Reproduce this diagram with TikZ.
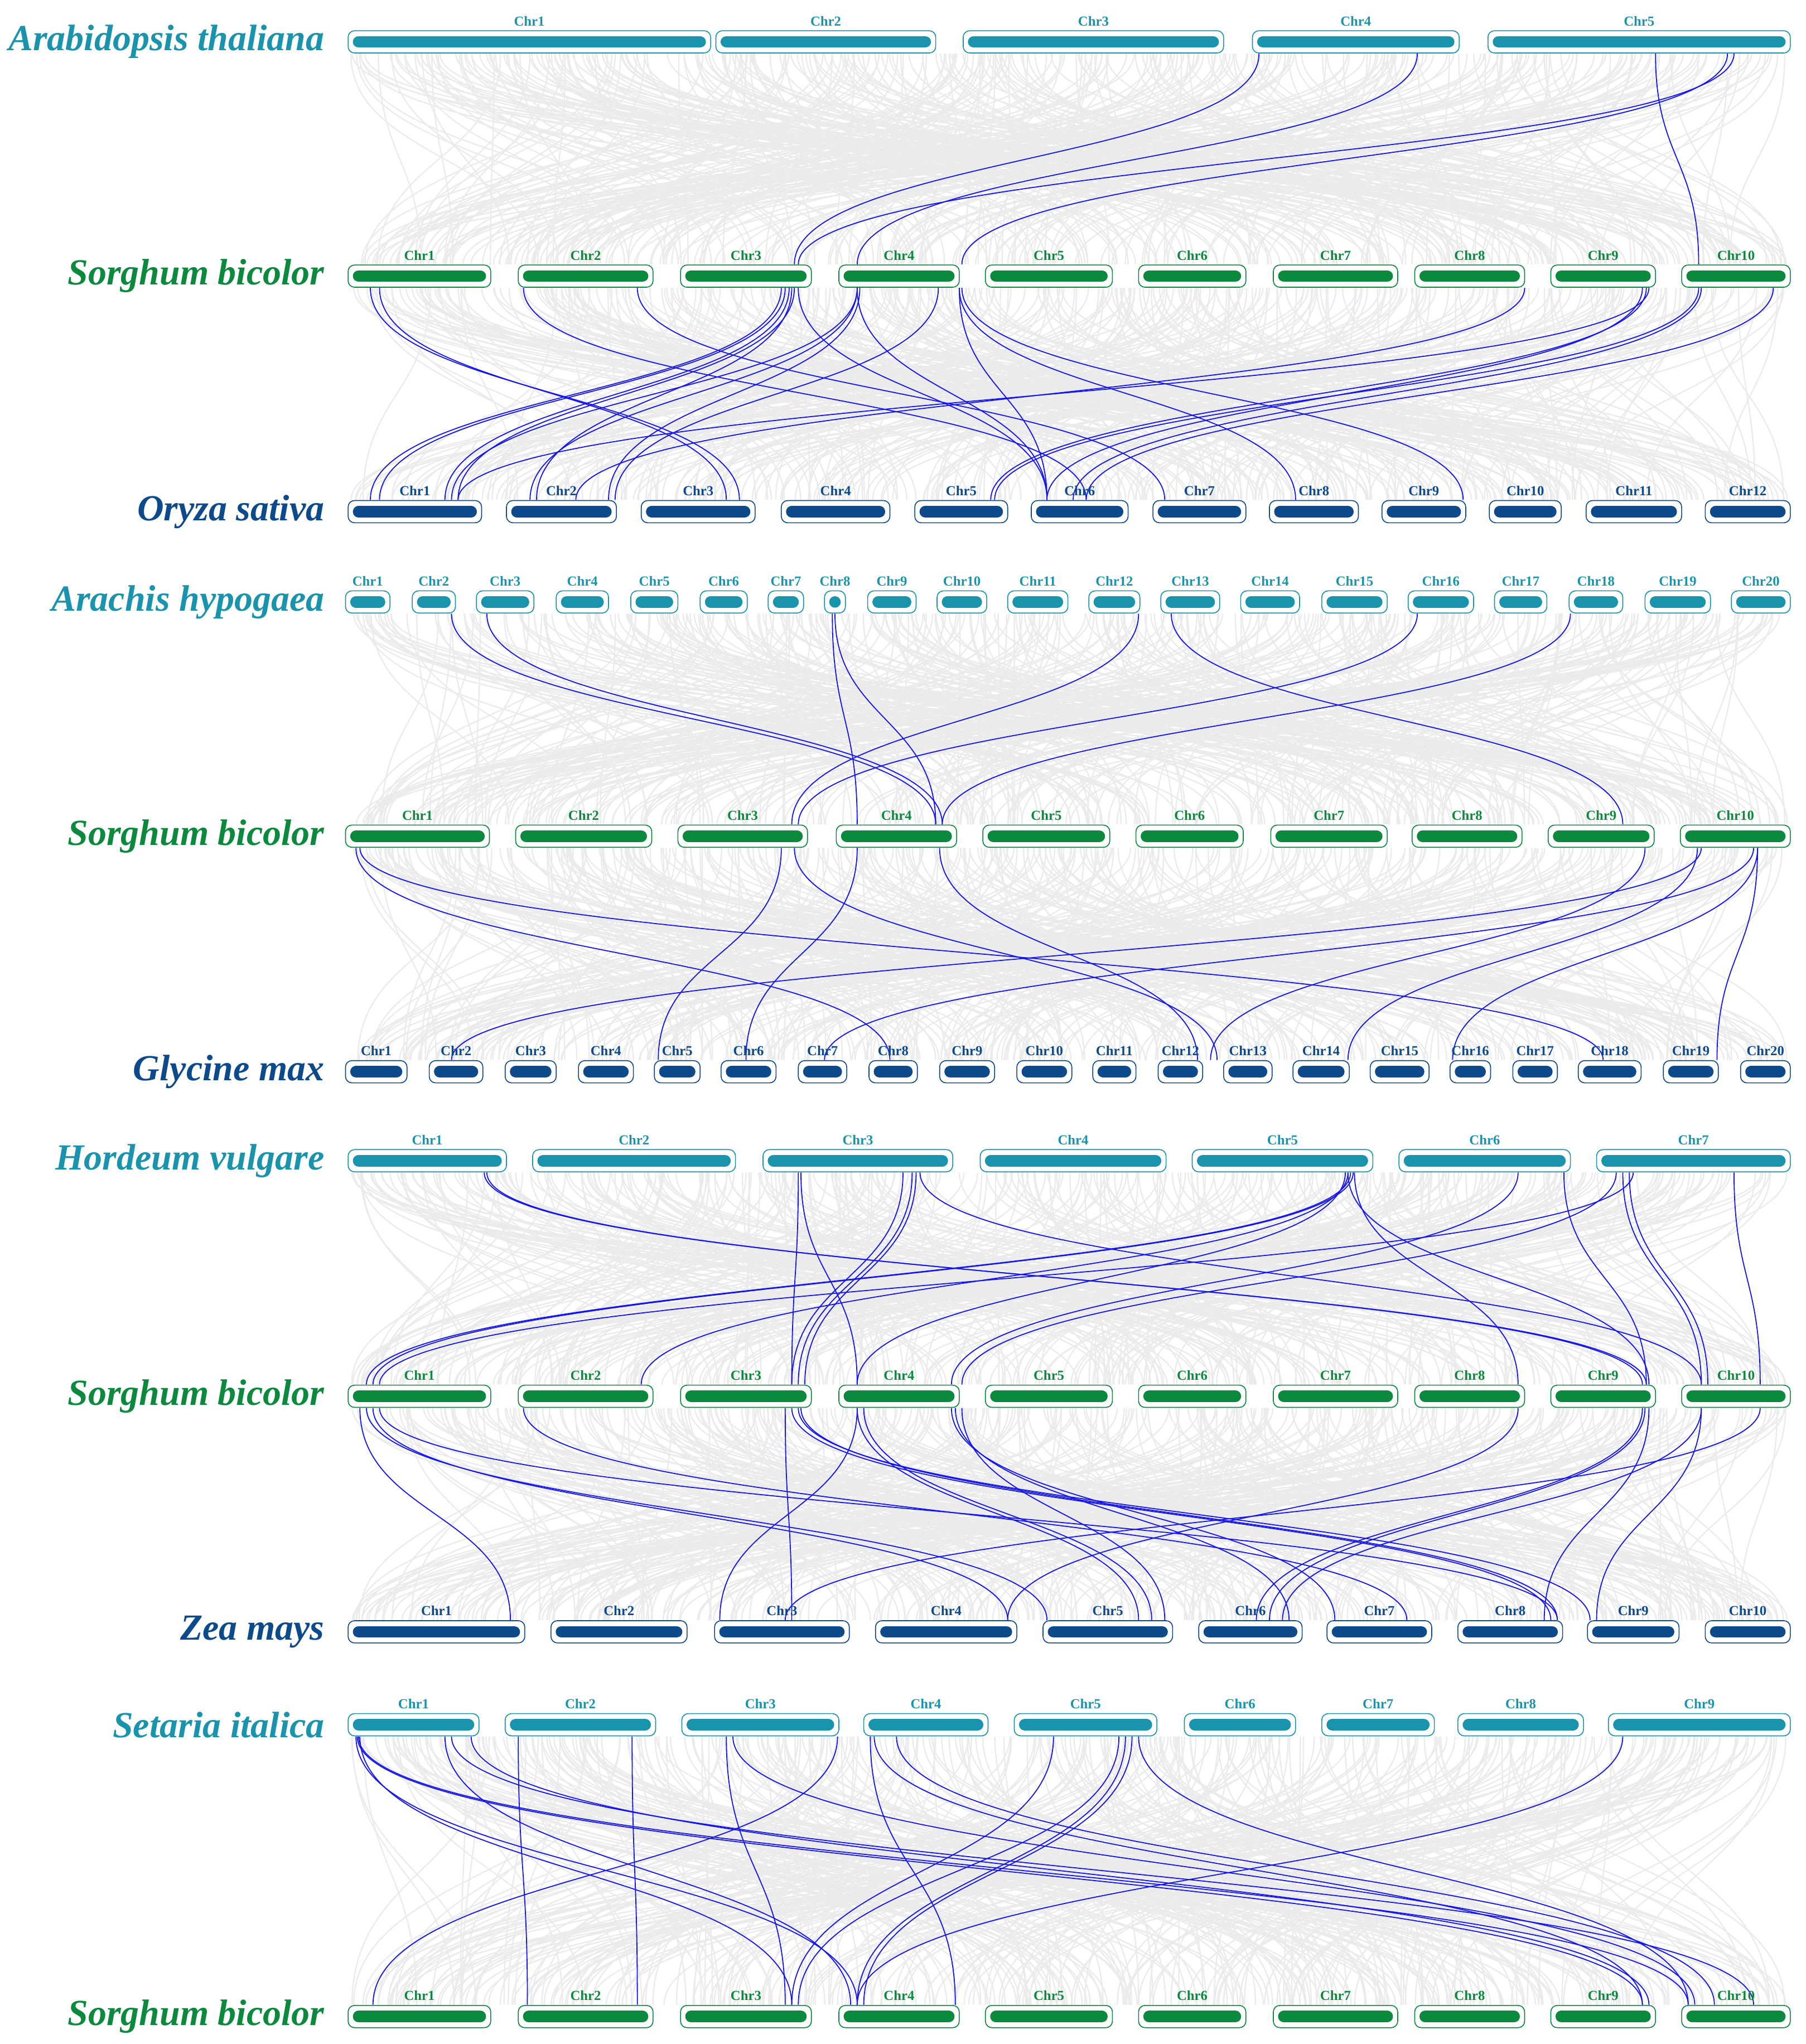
\documentclass[tikz,border=0pt]{standalone}
\usepackage{fontspec}
\setmainfont{Liberation Serif}
\definecolor{cteal}{HTML}{1A93AD}
\definecolor{cgreen}{HTML}{0B8A3D}
\definecolor{cnavy}{HTML}{0D4A8C}
\definecolor{cgray}{HTML}{EBEBEB}
\tikzset{
 bl/.style={draw={rgb,255:red,20;green,20;blue,240},line width=1.1pt},
 gl/.style={draw=cgray,line width=1.4pt},
 chrlab/.style={font=\fontsize{15}{16}\selectfont\bfseries,inner sep=0pt},
 sp/.style={font=\fontsize{40}{42}\selectfont\bfseries\itshape,anchor=east,inner sep=0pt}
}
\newcommand\chrrow[4]{%
 \foreach \s/\e/\l in {#4}{%
  \draw[draw=#3,fill=white,rounded corners=7pt,line width=1pt] (\s,#2-8.5) rectangle (\e,#2+8.5);
  \draw[#3,line width=12.5pt,line cap=round] (\s+8,#2) -- (\e-8,#2);
  \node[chrlab,text=#3] (#1\l) at ({(\s+\e)/2},#2-16) {\l};
 }}
\newcommand\lk[5][bl]{\draw[#1] (#2,#3+9) .. controls (#2,{(#3+#5)/2}) and (#4,{(#3+#5)/2}) .. (#4,#5-9);}
\begin{document}
\begin{tikzpicture}[x=0.05cm,y=-0.05cm]
\useasboundingbox (0,0) rectangle (1380,1562);
\pgfmathsetseed{7}
\foreach \ya/\yb in {32/211,211/391,460/639,639/819,887/1067,1067/1247,1318/1541}{
 \foreach \i in {1,...,420}{
  \pgfmathsetmacro\xa{268+1098*rnd}
  \pgfmathsetmacro\xb{268+1098*rnd}
  \lk[gl]{\xa}{\ya}{\xb}{\yb}
 }}
% gap 1
\foreach \a/\b in {962/607,1083/655,1325/610,1320/735,1265/1298}{\lk{\a}{32}{\b}{211}}
% gap 2
\foreach \a/\b in {283/565,290/555,400/830,487/890,597/283,600/290,603/340,607/350,605/410,610/800,655/345,655/405,657/465,717/470,655/800,733/800,733/990,735/1118,1165/440,1258/757,1255/800,1260/350,1298/760,1300/820,1355/830}{\lk{\a}{211}{\b}{391}}
% gap 3
\foreach \a/\b in {345/715,372/720,636/655,638/715,870/605,895/1240,1083/610,1200/720}{\lk{\a}{460}{\b}{639}}
% gap 4
\foreach \a/\b in {272/680,275/1225,597/503,607/930,655/570,718/915,1257/925,1300/345,1297/1030,1340/630,1343/1110,1343/1312}{\lk{\a}{639}{\b}{819}}
% gap 5
\foreach \a/\b in {370/1258,372/1255,610/605,612/655,690/605,697/610,700/615,703/1300,1032/280,1034/285,1030/490,1028/655,1035/1160,1160/727,1195/1258,1235/735,1240/1300,1245/1305,1248/290,1325/1345,1030/1260}{\lk{\a}{887}{\b}{1067}}
% gap 6
\foreach \a/\b in {275/390,280/800,285/770,290/1190,400/1075,600/605,605/1185,610/1215,612/1190,655/550,655/870,660/880,735/890,730/985,727/1020,1160/770,1255/960,1257/970,1260/1180,1300/1220,1345/600,1300/980}{\lk{\a}{1067}{\b}{1247}}
% gap 7
\foreach \a/\b in {272/655,273/1255,274/1290,275/605,340/650,345/1340,360/1260,396/403,483/487,555/600,560/1295,640/285,665/730,668/1255,685/1310,805/605,855/610,860/655,865/660,870/1290,1240/655}{\lk{\a}{1318}{\b}{1541}}
% rows
\chrrow{at}{32}{cteal}{266/543/Chr1,547/715/Chr2,736/935/Chr3,957/1115/Chr4,1137/1368/Chr5}
\chrrow{sba}{211}{cgreen}{266/375/Chr1,396/499/Chr2,520/620/Chr3,641/733/Chr4,753/850/Chr5,870/952/Chr6,973/1068/Chr7,1081/1165/Chr8,1185/1265/Chr9,1285/1368/Chr10}
\chrrow{os}{391}{cnavy}{266/368/Chr1,387/471/Chr2,490/577/Chr3,597/680/Chr4,699/770/Chr5,788/862/Chr6,881/952/Chr7,970/1038/Chr8,1056/1120/Chr9,1138/1193/Chr10,1212/1285/Chr11,1303/1368/Chr12}
\chrrow{ah}{460}{cteal}{264/298/Chr1,315/348/Chr2,364/408/Chr3,425/465/Chr4,482/518/Chr5,535/571/Chr6,587/614/Chr7,630/646/Chr8,663/700/Chr9,716/754/Chr10,770/816/Chr11,832/871/Chr12,887/932/Chr13,948/993/Chr14,1010/1060/Chr15,1076/1126/Chr16,1142/1182/Chr17,1199/1240/Chr18,1257/1307/Chr19,1323/1368/Chr20}
\chrrow{sbb}{639}{cgreen}{264/374/Chr1,394/498/Chr2,518/617/Chr3,639/731/Chr4,751/848/Chr5,868/950/Chr6,971/1060/Chr7,1079/1163/Chr8,1183/1264/Chr9,1284/1368/Chr10}
\chrrow{gm}{819}{cnavy}{264/311/Chr1,328/369/Chr2,386/425/Chr3,442/484/Chr4,500/535/Chr5,551/593/Chr6,610/647/Chr7,664/701/Chr8,718/760/Chr9,777/819/Chr10,835/868/Chr11,885/919/Chr12,935/972/Chr13,988/1031/Chr14,1047/1092/Chr15,1108/1139/Chr16,1156/1190/Chr17,1206/1254/Chr18,1271/1313/Chr19,1330/1368/Chr20}
\chrrow{hv}{887}{cteal}{266/387/Chr1,407/562/Chr2,583/728/Chr3,749/891/Chr4,911/1049/Chr5,1069/1200/Chr6,1220/1368/Chr7}
\chrrow{sbc}{1067}{cgreen}{266/375/Chr1,396/499/Chr2,520/620/Chr3,641/733/Chr4,753/850/Chr5,870/952/Chr6,973/1068/Chr7,1081/1165/Chr8,1185/1265/Chr9,1285/1368/Chr10}
\chrrow{zm}{1247}{cnavy}{266/401/Chr1,421/525/Chr2,546/649/Chr3,669/777/Chr4,797/896/Chr5,916/995/Chr6,1014/1094/Chr7,1114/1194/Chr8,1213/1283/Chr9,1303/1368/Chr10}
\chrrow{si}{1318}{cteal}{266/366/Chr1,386/501/Chr2,521/641/Chr3,660/755/Chr4,775/884/Chr5,905/990/Chr6,1010/1096/Chr7,1114/1210/Chr8,1229/1368/Chr9}
\chrrow{sbd}{1541}{cgreen}{266/375/Chr1,396/499/Chr2,520/620/Chr3,641/733/Chr4,753/850/Chr5,870/952/Chr6,973/1068/Chr7,1081/1165/Chr8,1185/1265/Chr9,1285/1368/Chr10}
% species
\node[sp,text=cteal] (s1) at (248,32) {Arabidopsis thaliana};
\node[sp,text=cgreen] (s2) at (248,211) {Sorghum bicolor};
\node[sp,text=cnavy] (s3) at (248,391) {Oryza sativa};
\node[sp,text=cteal] (s4) at (248,460) {Arachis hypogaea};
\node[sp,text=cgreen] (s5) at (248,639) {Sorghum bicolor};
\node[sp,text=cnavy] (s6) at (248,819) {Glycine max};
\node[sp,text=cteal] (s7) at (248,887) {Hordeum vulgare};
\node[sp,text=cgreen] (s8) at (248,1067) {Sorghum bicolor};
\node[sp,text=cnavy] (s9) at (248,1247) {Zea mays};
\node[sp,text=cteal] (s10) at (248,1318) {Setaria italica};
\node[sp,text=cgreen] (s11) at (248,1541) {Sorghum bicolor};
\end{tikzpicture}
\end{document}
